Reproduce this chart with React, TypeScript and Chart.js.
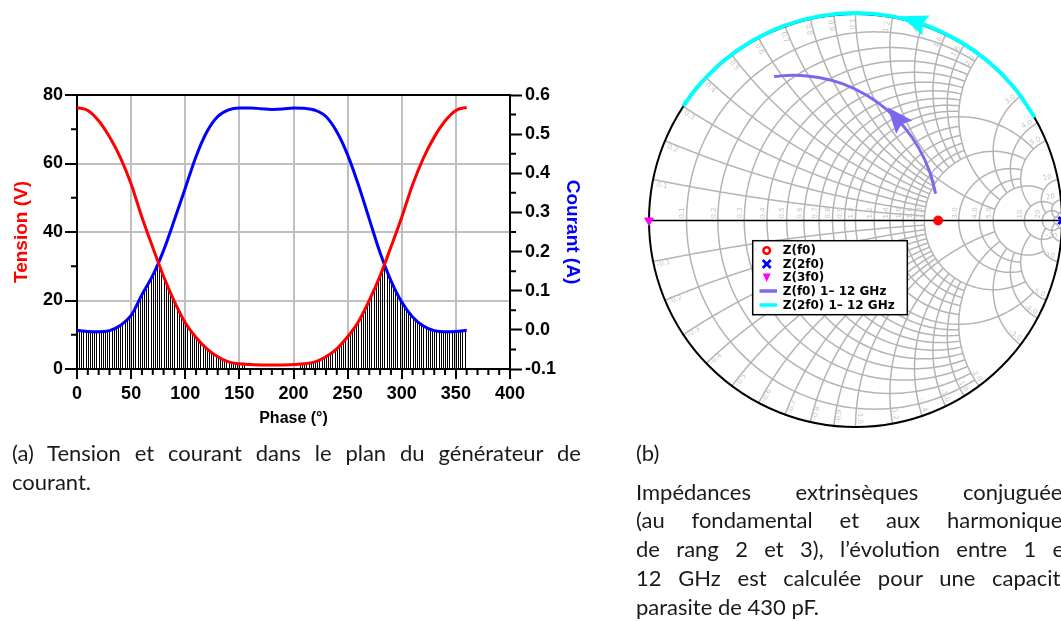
import React, { useEffect, useRef } from "react";
import { Chart, registerables } from "chart.js";

Chart.register(...registerables);

// ---------------- Panel (a) data ----------------
const PHASE_DEG = [0, 10, 20, 30, 40, 50, 60, 70, 80, 90, 100, 110, 120, 130, 140, 150, 160, 170, 180,
  190, 200, 210, 220, 230, 240, 250, 260, 270, 280, 290, 300, 310, 320, 330, 340, 350, 360];
const TENSION_V = [76.3, 75.5, 72.5, 67.8, 61.8, 54.0, 44.3, 35.5, 27.0, 19.7, 13.5, 9.2, 5.9, 3.6, 2.1, 1.5, 1.3, 1.2, 1.2,
  1.2, 1.3, 1.5, 2.1, 3.6, 5.9, 9.4, 13.8, 20.0, 27.2, 35.6, 44.3, 53.8, 61.6, 67.7, 72.4, 75.5, 76.4];
const COURANT_A = [-0.001, -0.004, -0.005, -0.002, 0.011, 0.037, 0.090, 0.139, 0.203, 0.281, 0.362, 0.443, 0.506, 0.545, 0.562, 0.567, 0.567, 0.565, 0.563,
  0.564, 0.567, 0.566, 0.561, 0.545, 0.506, 0.447, 0.370, 0.283, 0.197, 0.126, 0.071, 0.033, 0.010, -0.002, -0.005, -0.004, -0.001];
const HATCH_RANGES = [[0, 154], [206, 358]];
const HATCH_STEP = 2;
const X_TICK_STEP = 50;
const Y_TICK_STEP = 20;
const Y1_TICK_STEP = 0.1;

// ---------------- Panel (b) data (reflection coefficients) ----------------
const Z_F0_RE = [0.40];
const Z_F0_IM = [0];
const Z_2F0_RE = [1];
const Z_2F0_IM = [0];
const Z_3F0_RE = [-1];
const Z_3F0_IM = [0];
const SWEEP_F0_RE = [0.388, 0.358, 0.306, 0.236, 0.150, 0.050, -0.061, -0.178, -0.300, -0.394];
const SWEEP_F0_IM = [0.130, 0.239, 0.350, 0.450, 0.536, 0.606, 0.658, 0.689, 0.700, 0.694];
const SWEEP_2F0_RE = [0.868, 0.766, 0.643, 0.500, 0.342, 0.174, 0.000, -0.174, -0.342, -0.500, -0.643, -0.766, -0.835];
const SWEEP_2F0_IM = [0.497, 0.643, 0.766, 0.866, 0.940, 0.985, 1.000, 0.985, 0.940, 0.866, 0.766, 0.643, 0.551];
const ARROW_F0_INDEX = 3;
const ARROW_2F0_INDEX = 4;
const SMITH_GRID_VALUES = [0.1, 0.2, 0.3, 0.4, 0.5, 0.6, 0.7, 0.8, 0.9, 1.0, 1.2, 1.4, 1.6, 1.8, 2.0, 3.0, 4.0, 5.0, 10, 20, 50];

const ARIAL = "'Liberation Sans', Arial, Helvetica, sans-serif";
const DEJAVU = "'DejaVu Sans', sans-serif";

const gridLimit = (v: number) => {
  if (v === 1 || v === 2) return 5;
  if (v === 3 || v === 4) return 5;
  if (v === 5) return 10;
  if (v === 10) return 20;
  if (v >= 20) return 50;
  return 2;
};

const toGamma = (r: number, x: number): [number, number] => {
  const d = (r + 1) * (r + 1) + x * x;
  return [(r * r + x * x - 1) / d, (2 * x) / d];
};

// ---------------- Panel (a) plugins ----------------
const hatchPlugin = {
  id: "hatch",
  beforeDatasetsDraw(chart: any) {
    const { ctx, chartArea: a, scales } = chart;
    ctx.save();
    ctx.beginPath();
    ctx.rect(a.left, a.top, a.right - a.left, a.bottom - a.top);
    ctx.clip();
    for (let i = 0; i < 2; i++) {
      const meta = chart.getDatasetMeta(i);
      const line = meta.dataset;
      const pts = meta.data;
      if (line && line.updateControlPoints) line.updateControlPoints(a, "x");
      ctx.beginPath();
      if (line && typeof line.path === "function") {
        line.path(ctx);
      } else {
        pts.forEach((p: any, k: number) => (k ? ctx.lineTo(p.x, p.y) : ctx.moveTo(p.x, p.y)));
      }
      ctx.lineTo(pts[pts.length - 1].x, a.bottom + 2);
      ctx.lineTo(pts[0].x, a.bottom + 2);
      ctx.closePath();
      ctx.clip();
    }
    ctx.strokeStyle = "#000";
    ctx.lineWidth = 1;
    ctx.beginPath();
    for (const [s, e] of HATCH_RANGES) {
      for (let p = s; p <= e; p += HATCH_STEP) {
        const x = Math.round(scales.x.getPixelForValue(p)) + 0.5;
        ctx.moveTo(x, a.top);
        ctx.lineTo(x, a.bottom);
      }
    }
    ctx.stroke();
    ctx.restore();
  },
};

const framePlugin = {
  id: "frame",
  afterDraw(chart: any) {
    const { ctx, chartArea: a, scales } = chart;
    ctx.save();
    ctx.strokeStyle = "#000";
    ctx.lineWidth = 2;
    ctx.beginPath();
    for (let v = 0; v <= 400; v += 10) {
      if (v % X_TICK_STEP === 0) continue;
      const x = scales.x.getPixelForValue(v);
      ctx.moveTo(x, a.bottom);
      ctx.lineTo(x, a.bottom + 6);
    }
    for (let v = Y_TICK_STEP / 2; v < 80; v += Y_TICK_STEP) {
      const y = scales.y.getPixelForValue(v);
      ctx.moveTo(a.left, y);
      ctx.lineTo(a.left - 6, y);
    }
    for (let k = -1; k <= 11; k += 2) {
      const y = scales.y1.getPixelForValue(k * Y1_TICK_STEP / 2);
      ctx.moveTo(a.right, y);
      ctx.lineTo(a.right + 6, y);
    }
    ctx.moveTo(a.left - 1, a.top);
    ctx.lineTo(a.right + 1, a.top);
    ctx.stroke();
    ctx.restore();
  },
};

function makePanelA(canvas: HTMLCanvasElement) {
  const tickFont = { family: ARIAL, size: 18, weight: "bold" as const };
  const gridColor = (edge: number[]) => (c: any) =>
    edge.some((e) => Math.abs(c.tick.value - e) < 1e-9) ? "rgba(0,0,0,0)" : "#c0c0c0";
  return new Chart(canvas, {
    type: "line",
    data: {
      datasets: [
        {
          label: "Tension (V)",
          data: PHASE_DEG.map((p, i) => ({ x: p, y: TENSION_V[i] })),
          borderColor: "#ff0000",
          borderWidth: 3,
          pointRadius: 0,
          yAxisID: "y",
          cubicInterpolationMode: "monotone",
        },
        {
          label: "Courant (A)",
          data: PHASE_DEG.map((p, i) => ({ x: p, y: COURANT_A[i] })),
          borderColor: "#0000ff",
          borderWidth: 3,
          pointRadius: 0,
          yAxisID: "y1",
          cubicInterpolationMode: "monotone",
        },
      ],
    },
    options: {
      animation: false,
      responsive: false,
      events: [],
      layout: { padding: { top: 95, left: 0, right: 0, bottom: 0 } },
      plugins: { legend: { display: false }, tooltip: { enabled: false } },
      scales: {
        x: {
          type: "linear",
          min: 0,
          max: 400,
          afterFit: (s: any) => { s.height = 71; },
          ticks: { stepSize: X_TICK_STEP, autoSkip: false, font: tickFont, color: "#000", padding: 4, maxRotation: 0 },
          grid: { color: gridColor([0, 400]), lineWidth: 2, tickLength: 10, tickColor: "#000", tickWidth: 2 },
          border: { color: "#000", width: 2 },
          title: { display: true, text: "Phase (°)", color: "#000", font: { family: ARIAL, size: 16, weight: "bold" }, padding: { top: 0, bottom: 11.4 } },
        },
        y: {
          type: "linear",
          position: "left",
          min: 0,
          max: 80,
          afterFit: (s: any) => { s.width = 77; },
          ticks: { stepSize: Y_TICK_STEP, font: tickFont, color: "#000", padding: 2 },
          grid: { color: gridColor([0, 80]), lineWidth: 2, tickLength: 12, tickColor: "#000", tickWidth: 2 },
          border: { color: "#000", width: 2 },
          title: { display: true, text: "Tension (V)", color: "#ff0000", font: { family: ARIAL, size: 19, weight: "bold" }, padding: { top: 10.6, bottom: 0 } },
        },
        y1: {
          type: "linear",
          position: "right",
          min: -0.1,
          max: 0.6,
          afterFit: (s: any) => { s.width = 100; },
          ticks: {
            stepSize: Y1_TICK_STEP,
            font: tickFont,
            color: "#000",
            padding: 3,
            callback: (v: any) => (Math.abs(Number(v)) < 1e-9 ? 0 : Number(v)).toFixed(1),
          },
          grid: { drawOnChartArea: false, tickLength: 12, tickColor: "#000", tickWidth: 2 },
          border: { color: "#000", width: 2 },
          title: { display: true, text: "Courant (A)", color: "#0000ff", font: { family: ARIAL, size: 19, weight: "bold" }, padding: { top: 26.6, bottom: 0 } },
        },
      },
    } as any,
    plugins: [hatchPlugin, framePlugin],
  });
}

// ---------------- Panel (b) plugins ----------------
const smithGridPlugin = {
  id: "smithGrid",
  beforeDatasetsDraw(chart: any) {
    const { ctx, scales } = chart;
    const sx = scales.x, sy = scales.y;
    const P = (g: [number, number]): [number, number] => [sx.getPixelForValue(g[0]), sy.getPixelForValue(g[1])];
    const N = 240;
    ctx.save();
    ctx.strokeStyle = "#b4b4b4";
    ctx.lineWidth = 1.5;
    for (const r of SMITH_GRID_VALUES) {
      const t0 = Math.atan(gridLimit(r));
      ctx.beginPath();
      for (let i = 0; i <= N; i++) {
        const th = -t0 + (2 * t0 * i) / N;
        const p = P(toGamma(r, Math.tan(th)));
        if (i) ctx.lineTo(p[0], p[1]); else ctx.moveTo(p[0], p[1]);
      }
      ctx.stroke();
    }
    for (const xv of SMITH_GRID_VALUES) {
      const f0 = Math.atan(gridLimit(xv));
      for (const s of [1, -1]) {
        ctx.beginPath();
        for (let i = 0; i <= N; i++) {
          const r = Math.tan((f0 * i) / N);
          const p = P(toGamma(r, s * xv));
          if (i) ctx.lineTo(p[0], p[1]); else ctx.moveTo(p[0], p[1]);
        }
        ctx.stroke();
      }
    }
    const c = P([0, 0]);
    const R = sx.getPixelForValue(1) - c[0];
    ctx.fillStyle = "#c4c4c4";
    ctx.font = `7px ${DEJAVU}`;
    const lab = (v: number) => (v >= 10 ? String(v) : v.toFixed(1));
    for (const v of SMITH_GRID_VALUES) {
      if (v >= 50) continue;
      const px = sx.getPixelForValue((v - 1) / (v + 1));
      ctx.save();
      ctx.translate(px - 4, c[1] - 2);
      ctx.rotate(-Math.PI / 2);
      ctx.textAlign = "left";
      ctx.textBaseline = "middle";
      ctx.fillText(lab(v), 0, 0);
      ctx.restore();
    }
    for (const v of SMITH_GRID_VALUES) {
      if (v >= 50) continue;
      for (const s of [1, -1]) {
        const g = toGamma(0, s * v);
        const th = Math.atan2(g[1], g[0]);
        const ux = Math.cos(th), uy = -Math.sin(th);
        const vx = uy, vy = -ux;
        const cx = c[0] + (R - 10) * ux + 4 * vx;
        const cy = c[1] + (R - 10) * uy + 4 * vy;
        let rot = Math.atan2(uy, ux);
        if (rot > Math.PI / 2) rot -= Math.PI;
        if (rot <= -Math.PI / 2) rot += Math.PI;
        ctx.save();
        ctx.translate(cx, cy);
        ctx.rotate(rot);
        ctx.textAlign = "center";
        ctx.textBaseline = "middle";
        ctx.fillText((s < 0 ? "-" : "") + lab(v), 0, 0);
        ctx.restore();
      }
    }
    ctx.strokeStyle = "#000";
    ctx.lineWidth = 2;
    ctx.beginPath();
    ctx.arc(c[0], c[1], R, 0, Math.PI * 2);
    ctx.stroke();
    ctx.lineWidth = 1.5;
    ctx.beginPath();
    ctx.moveTo(c[0] - R, c[1]);
    ctx.lineTo(c[0] + R, c[1]);
    ctx.stroke();
    ctx.restore();
  },
};

function drawArrow(ctx: CanvasRenderingContext2D, pts: any[], i: number, color: string, len: number, halfW: number) {
  const b = pts[i];
  const p0 = pts[Math.max(0, i - 1)], p1 = pts[Math.min(pts.length - 1, i + 1)];
  const dx = p1.x - p0.x, dy = p1.y - p0.y;
  const d = Math.hypot(dx, dy) || 1;
  const ux = dx / d, uy = dy / d;
  const tx = b.x + ux * len, ty = b.y + uy * len;
  ctx.fillStyle = color;
  ctx.beginPath();
  ctx.moveTo(tx, ty);
  ctx.lineTo(b.x - uy * halfW, b.y + ux * halfW);
  ctx.lineTo(b.x + ux * 4, b.y + uy * 4);
  ctx.lineTo(b.x + uy * halfW, b.y - ux * halfW);
  ctx.closePath();
  ctx.fill();
}

const smithOverlayPlugin = {
  id: "smithOverlay",
  afterDatasetsDraw(chart: any) {
    const { ctx } = chart;
    ctx.save();
    drawArrow(ctx, chart.getDatasetMeta(3).data, ARROW_F0_INDEX, "#7b68ee", 26, 10.5);
    drawArrow(ctx, chart.getDatasetMeta(4).data, ARROW_2F0_INDEX, "#00ffff", 27, 10.5);
    const lx = 112.7, ly = 240.7, lw = 154.6, lh = 74;
    ctx.fillStyle = "#fff";
    ctx.fillRect(lx, ly, lw, lh);
    ctx.strokeStyle = "#000";
    ctx.lineWidth = 1.5;
    ctx.strokeRect(lx, ly, lw, lh);
    const rows = [250.5, 264, 277.5, 291, 305];
    const mx = 126.7;
    ctx.font = `bold 12px ${DEJAVU}`;
    ctx.textBaseline = "middle";
    ctx.textAlign = "left";
    chart.data.datasets.forEach((ds: any, i: number) => {
      const y = rows[i];
      if (i === 0) {
        ctx.strokeStyle = "#ff0000"; ctx.lineWidth = 2.5;
        ctx.beginPath(); ctx.arc(mx, y, 3.3, 0, Math.PI * 2); ctx.stroke();
      } else if (i === 1) {
        ctx.strokeStyle = "#0000ff"; ctx.lineWidth = 2.8;
        ctx.beginPath();
        ctx.moveTo(mx - 4, y - 4); ctx.lineTo(mx + 4, y + 4);
        ctx.moveTo(mx + 4, y - 4); ctx.lineTo(mx - 4, y + 4);
        ctx.stroke();
      } else if (i === 2) {
        ctx.fillStyle = "#ff00ff";
        ctx.beginPath();
        ctx.moveTo(mx - 4, y - 4); ctx.lineTo(mx + 4, y - 4); ctx.lineTo(mx, y + 4.5);
        ctx.closePath(); ctx.fill();
      } else {
        ctx.strokeStyle = ds.borderColor; ctx.lineWidth = 3.5;
        ctx.beginPath(); ctx.moveTo(119.5, y); ctx.lineTo(137, y); ctx.stroke();
      }
      ctx.fillStyle = "#000";
      ctx.fillText(ds.label, 142.7, y + 0.5);
    });
    ctx.restore();
  },
};

function makePanelB(canvas: HTMLCanvasElement) {
  const xy = (re: number[], im: number[]) => re.map((r, i) => ({ x: r, y: im[i] }));
  return new Chart(canvas, {
    type: "scatter",
    data: {
      datasets: [
        { label: "Z(f0)", data: xy(Z_F0_RE, Z_F0_IM), pointStyle: "circle", pointRadius: 4.5, backgroundColor: "#ff0000", borderColor: "#ff0000", borderWidth: 1, clip: false },
        { label: "Z(2f0)", data: xy(Z_2F0_RE, Z_2F0_IM), pointStyle: "crossRot", pointRadius: 5, backgroundColor: "#0000ff", borderColor: "#0000ff", borderWidth: 3, clip: false },
        { label: "Z(3f0)", data: xy(Z_3F0_RE, Z_3F0_IM), pointStyle: "triangle", pointRotation: 180, pointRadius: 5, backgroundColor: "#ff00ff", borderColor: "#ff00ff", borderWidth: 1, clip: false },
        { label: "Z(f0) 1\u2013 12 GHz", data: xy(SWEEP_F0_RE, SWEEP_F0_IM), showLine: true, borderColor: "#7b68ee", borderWidth: 3, pointRadius: 0, tension: 0.4, clip: false },
        { label: "Z(2f0) 1\u2013 12 GHz", data: xy(SWEEP_2F0_RE, SWEEP_2F0_IM), showLine: true, borderColor: "#00ffff", borderWidth: 4, pointRadius: 0, tension: 0.4, clip: false },
      ],
    },
    options: {
      animation: false,
      responsive: false,
      events: [],
      layout: { padding: { left: 9, top: 13, right: 6, bottom: 12 } },
      plugins: { legend: { display: false }, tooltip: { enabled: false } },
      scales: {
        x: { type: "linear", min: -1, max: 1, display: false },
        y: { type: "linear", min: -1, max: 1, display: false },
      },
    } as any,
    plugins: [smithGridPlugin, smithOverlayPlugin],
  });
}

const CAPTION_A = ["(a) Tension et courant dans le plan du générateur de", "courant."];
const CAPTION_B_HEAD = "(b)";
const CAPTION_B = [
  "Impédances extrinsèques conjuguées",
  "(au fondamental et aux harmoniques",
  "de rang 2 et 3), l\u2019évolution entre 1 et",
  "12 GHz est calculée pour une capacité",
  "parasite de 430 pF.",
];

const textBase: React.CSSProperties = {
  position: "absolute",
  fontFamily: "Lato, 'Open Sans', sans-serif",
  fontSize: 22,
  color: "#1a1a1a",
  whiteSpace: "nowrap",
};

export default function App() {
  const refA = useRef<HTMLCanvasElement>(null);
  const refB = useRef<HTMLCanvasElement>(null);
  useEffect(() => {
    const a = makePanelA(refA.current!);
    const b = makePanelB(refB.current!);
    return () => {
      a.destroy();
      b.destroy();
    };
  }, []);
  const lineStyle = (w: number, justify: boolean): React.CSSProperties => ({
    width: w,
    height: 28.9,
    lineHeight: "28.9px",
    textAlign: justify ? "justify" : "left",
    textAlignLast: justify ? "justify" : "left",
    whiteSpace: "nowrap",
  });
  return (
    <div style={{ position: "absolute", left: 0, top: 0, width: 1061, height: 621, overflow: "hidden", background: "#fff" }}>
      <canvas ref={refA} width={610} height={440} style={{ position: "absolute", left: 0, top: 0, width: 610, height: 440 }} />
      <canvas ref={refB} width={430} height={440} style={{ position: "absolute", left: 640, top: 0, width: 430, height: 440 }} />
      <div style={{ ...textBase, left: 12, top: 439 }}>
        {CAPTION_A.map((t, i) => (
          <div key={i} style={lineStyle(569, i < CAPTION_A.length - 1)}>{t}</div>
        ))}
      </div>
      <div style={{ ...textBase, left: 636, top: 438.5 }}>
        <div style={{ height: 39, lineHeight: "28.9px" }}>{CAPTION_B_HEAD}</div>
        {CAPTION_B.map((t, i) => (
          <div key={i} style={lineStyle(436, i < CAPTION_B.length - 1)}>{t}</div>
        ))}
      </div>
    </div>
  );
}
